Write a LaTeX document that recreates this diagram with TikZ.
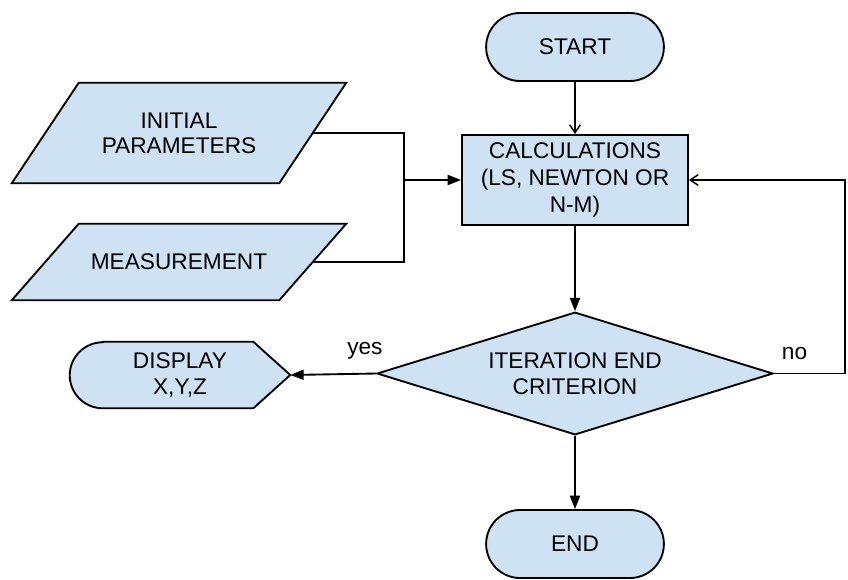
\documentclass[tikz,border=0pt]{standalone}
\usepackage{fontspec}
\setmainfont{Liberation Sans}
\usepackage{xcolor}
\usepackage{tikz}
\usetikzlibrary{
  shapes.geometric, shapes.misc, arrows.meta, positioning, calc, backgrounds
}
\definecolor{boxblue}{HTML}{CFE2F3}
\tikzset{
  terminal/.style={
    rounded rectangle, minimum width=140pt, minimum height=51pt,
    draw=black, fill=boxblue, line width=1.4pt, text centered,
    font=\fontsize{17}{20}\selectfont
  },
  process/.style={
    rectangle, minimum width=169.5pt, minimum height=67.5pt, inner sep=0pt,
    draw=black, fill=boxblue, line width=1.4pt, align=center,
    font=\fontsize{17}{20}\selectfont
  },
  inputbox/.style={
    rectangle, minimum width=200.25pt, inner sep=0pt,
    align=center, font=\fontsize{17}{19}\selectfont
  },
  decision/.style={
    diamond, aspect=3.2, minimum width=297pt, minimum height=92pt, inner sep=0pt,
    draw=black, fill=boxblue, line width=1.4pt, align=center,
    font=\fontsize{17}{19.5}\selectfont
  },
  displaybox/.style={
    rectangle, minimum width=165pt, minimum height=49.5pt, inner sep=0pt,
    align=center, font=\fontsize{17}{19.5}\selectfont
  },
  line/.style={line width=1.4pt, draw=black},
  arrowopen/.style={line, -{Straight Barb[length=6pt, width=8pt, line width=1.1pt]}},
  arrowfill/.style={line, -{Triangle[length=10pt, width=7.5pt]}},
  edgelabel/.style={font=\fontsize{17}{20}\selectfont, inner sep=0pt}
}

\begin{document}
\begin{tikzpicture}[x=0.75pt, y=-0.75pt]
  \useasboundingbox (0,0) rectangle (848,579);

  % ── Main column ──────────────────────────────────────────────────
  \node[terminal] (start) at (575, 47) {START};
  \node[process]  (calc)  at (575, 180) {CALCULATIONS\\(LS, NEWTON OR\\N-M)};
  \node[decision] (crit)  at (575, 373.5) {ITERATION END\\CRITERION};
  \node[terminal] (end)   at (575, 544) {END};

  % ── Inputs ───────────────────────────────────────────────────────
  \node[inputbox, minimum height=75pt] (init) at (179, 133) {INITIAL\\PARAMETERS};
  \node[inputbox, minimum height=57pt] (meas) at (179, 262) {MEASUREMENT};

  % ── Display output ───────────────────────────────────────────────
  \node[displaybox] (display) at (180, 375) {DISPLAY\\X,Y,Z};

  % ── Shape outlines ───────────────────────────────────────────────
  \begin{scope}[on background layer]
    \foreach \n in {init, meas} {
      \draw[line, fill=boxblue]
        ([xshift=25.125pt]\n.north west) -- ([xshift=25.125pt]\n.north east)
        -- ([xshift=-25.125pt]\n.south east) -- ([xshift=-25.125pt]\n.south west)
        -- cycle;
    }
    \draw[line, fill=boxblue]
      ([xshift=24.75pt]display.north west) -- ([xshift=-27.75pt]display.north east)
      -- (display.east) -- ([xshift=-27.75pt]display.south east)
      -- ([xshift=24.75pt]display.south west) arc (270:90:24.75pt) -- cycle;
  \end{scope}

  % ── Connections ──────────────────────────────────────────────────
  \coordinate (join) at (404, 180);
  \coordinate (loop) at (845, 373.5);

  \draw[arrowopen] (start) -- (calc);
  \draw[line] (init.east) -| (join);
  \draw[line] (meas.east) -| (join);
  \draw[arrowfill] (join) -- (calc.west);
  \draw[arrowfill] (calc) -- (crit);
  \draw[arrowfill] (crit) -- (end);
  \draw[arrowfill] (crit.west) --
    node[edgelabel, pos=0.13, above=10pt] {yes} (display.east);
  \draw[arrowopen] (crit.east) --
    node[edgelabel, pos=0.29, above=10pt] {no} (loop) |- (calc.east);
\end{tikzpicture}
\end{document}
